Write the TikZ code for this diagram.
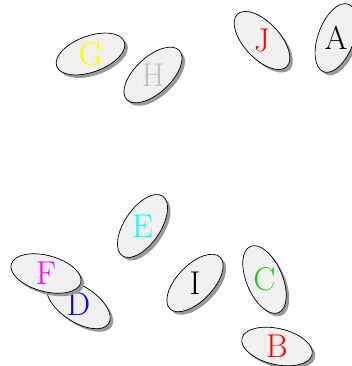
\documentclass[tikz,border=0pt]{standalone}
\definecolor{mycyan}{RGB}{0,255,255}
\definecolor{mymagenta}{RGB}{255,0,255}
\definecolor{mygreen}{RGB}{20,205,20}
\definecolor{myyellow}{RGB}{255,255,0}
\definecolor{myred}{RGB}{255,0,0}
\definecolor{myblue}{RGB}{0,0,255}
\definecolor{mygray}{RGB}{192,192,192}
\tikzset{
  ellbody/.style={draw=black, line width=0.7pt, fill=black!6},
  ellshadow/.style={fill=black!40},
  lbl/.style={font=\fontsize{33}{40}\selectfont, inner sep=0pt}
}
\newcommand\myell[6]{%
  \fill[ellshadow, shift={(#1pt+3pt,-#2pt-3pt)}, rotate=#3] (0,0) ellipse (36pt and 18pt);
  \draw[ellbody, shift={(#1pt,-#2pt)}, rotate=#3] (0,0) ellipse (36pt and 18pt);
  \node[lbl, text=#5] (#4) at (#1pt,-#2pt) {#6};
}
\begin{document}
\begin{tikzpicture}
\useasboundingbox (0,0) rectangle (351pt,-366pt);
\myell{90.5}{54}{20}{g}{myyellow}{G}
\myell{153}{75}{43}{h}{mygray}{H}
\myell{262}{40.5}{-47}{j}{myred}{J}
\myell{336}{38}{70}{a}{black}{A}
\myell{142.5}{226}{56}{e}{mycyan}{E}
\myell{78.5}{304}{-33}{d}{myblue}{D}
\myell{46}{273.5}{-15}{f}{mymagenta}{F}
\myell{195}{283}{46}{i}{black}{I}
\myell{264.5}{279.5}{-67}{c}{mygreen}{C}
\myell{277}{346.5}{-13}{b}{myred}{B}
\end{tikzpicture}
\end{document}
